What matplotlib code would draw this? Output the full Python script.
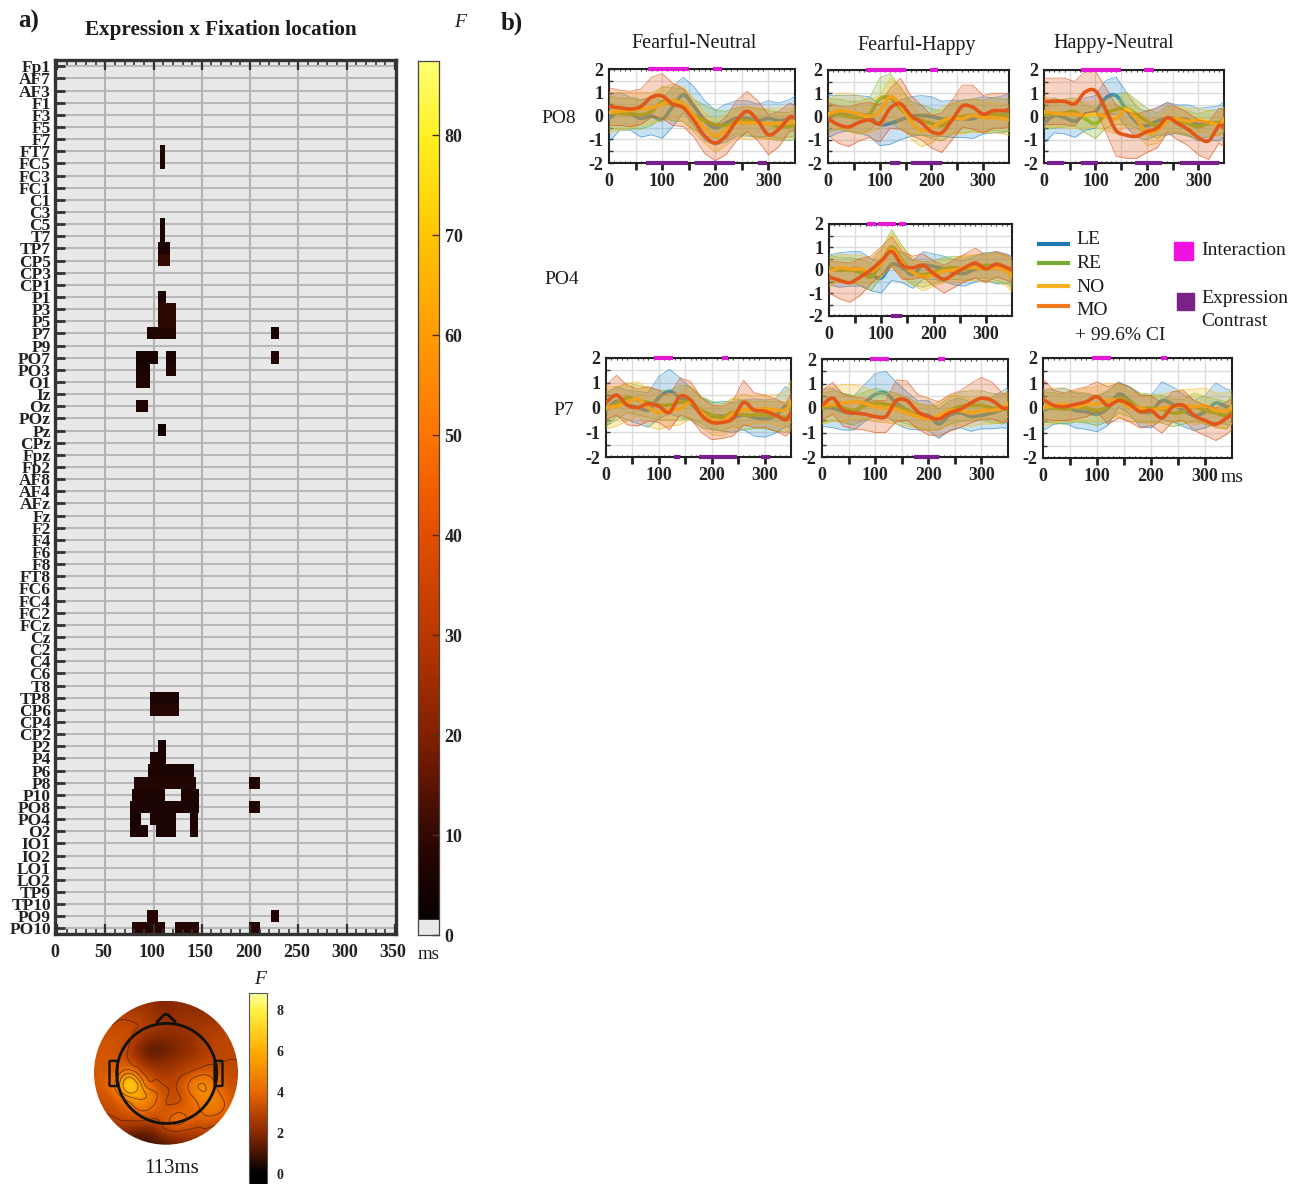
import matplotlib
matplotlib.use('agg')
import matplotlib.pyplot as plt
import numpy as np
from matplotlib.colors import LinearSegmentedColormap
from matplotlib.patches import Circle, FancyBboxPatch, PathPatch, Rectangle
from matplotlib.path import Path
from matplotlib.transforms import ScaledTranslation
from matplotlib.tri import Triangulation, UniformTriRefiner

W, H = 1304, 1184
SERIF = 'Liberation Serif'

CHANNELS = ['Fp1', 'AF7', 'AF3', 'F1', 'F3', 'F5', 'F7', 'FT7', 'FC5', 'FC3', 'FC1', 'C1', 'C3', 'C5', 'T7', 'TP7',
            'CP5', 'CP3', 'CP1', 'P1', 'P3', 'P5', 'P7', 'P9', 'PO7', 'PO3', 'O1', 'Iz', 'Oz', 'POz', 'Pz', 'CPz',
            'Fpz', 'Fp2', 'AF8', 'AF4', 'AFz', 'Fz', 'F2', 'F4', 'F6', 'F8', 'FT8', 'FC6', 'FC4', 'FC2', 'FCz', 'Cz',
            'C2', 'C4', 'C6', 'T8', 'TP8', 'CP6', 'CP4', 'CP2', 'P2', 'P4', 'P6', 'P8', 'P10', 'PO8', 'PO4', 'O2',
            'IO1', 'IO2', 'LO1', 'LO2', 'TP9', 'TP10', 'PO9', 'PO10']

# significant stretches per channel: start ms, end ms, F
SIG_CELLS = {
    'FT7': [(106, 112.5, 7)], 'FC5': [(106, 112.5, 7)], 'C5': [(106, 112.5, 6)], 'T7': [(106, 112.5, 6)],
    'TP7': [(104, 117, 6)], 'CP5': [(104, 117, 10)], 'P1': [(104, 113, 6)], 'P3': [(104, 123, 9)],
    'P5': [(104, 123, 9)], 'P7': [(93, 123, 7), (221, 229, 6)], 'PO7': [(82.5, 104, 5), (113, 123, 5), (221, 229, 7)],
    'PO3': [(82.5, 95.6, 6), (113, 123, 7)], 'O1': [(82.5, 95.6, 7)], 'Oz': [(82.5, 94.5, 7)], 'Pz': [(104, 113, 4)],
    'TP8': [(96, 125.6, 6)], 'CP6': [(96, 125.6, 8)], 'P2': [(104, 113, 6)], 'P4': [(96, 113, 6)],
    'P6': [(94.5, 141, 6)], 'P8': [(80, 143.5, 7), (198, 209.5, 7)],
    'P10': [(77, 112.5, 6), (128, 147, 6)], 'PO8': [(75, 147, 6), (198, 209.5, 7)],
    'PO4': [(75, 86.6, 5), (96, 123, 6), (137, 145.6, 6)], 'O2': [(75, 94.5, 6), (102, 123, 6), (137, 145.6, 6)],
    'PO9': [(93, 104, 8), (221, 229, 7)], 'PO10': [(77, 112, 8), (121.5, 147, 8), (198, 209.5, 8)],
}

MS = [0, 20, 40, 60, 80, 100, 120, 140, 160, 180, 200, 220, 240, 260, 280, 300, 320, 340, 350]

PO8_FN_LE = [-.1, .2, .1, -.1, 0, -.15, .4, .9, .4, -.2, -.5, -.3, -.1, -.1, -.2, -.1, -.2, -.1, 0]
PO8_FN_RE = [.15, .1, .1, .05, .2, .6, .5, .45, .05, -.2, -.35, -.4, -.2, -.2, -.3, -.35, -.45, -.45, -.35]
PO8_FN_NO = [.15, .2, .25, .3, .35, .5, .65, .5, 0, -.5, -.85, -.6, -.3, -.3, -.3, -.35, -.3, -.3, -.25]
PO8_FN_MO = [.4, .35, .3, .4, .8, .85, .5, .35, -.2, -.85, -1.15, -.85, -.2, .2, -.2, -.8, -.55, -.05, -.1]
PO8_FN_LE_CI = [1.0, .8, .7, .8, .8, .8, .85, .75, .85, .85, .75, .8, .75, .75, .7, .75, .75, .8, .85]
PO8_FN_RE_CI = [.7, .65, .65, .6, .6, .65, .7, .7, .65, .65, .6, .6, .55, .6, .6, .6, .6, .6, .65]
PO8_FN_NO_CI = [.85, .8, .75, .7, .65, .7, .7, .75, .7, .65, .7, .65, .6, .7, .65, .65, .65, .6, .65]
PO8_FN_MO_CI = [.8, .75, .75, .75, .85, .95, .9, .8, .7, .75, .75, .8, .85, .85, .85, .85, .75, .6, .55]

PO8_FH_LE = [0, .1, .15, .1, 0, -.35, -.3, -.15, 0, .05, 0, -.1, -.1, -.1, -.1, .05, .05, .1, .2]
PO8_FH_RE = [.05, .1, 0, -.05, .1, .75, .8, .35, -.05, -.15, -.3, -.4, -.1, 0, .05, 0, .1, .05, .05]
PO8_FH_NO = [.1, .25, .2, .1, 0, .2, .85, .5, -.2, -.6, -.5, -.2, -.05, -.1, .05, -.05, -.05, -.1, -.15]
PO8_FH_MO = [-.1, -.35, -.45, -.25, -.15, -.3, .35, .55, .05, -.25, -.65, -.7, -.15, .45, .4, .1, .25, .25, .3]
PO8_FH_LE_CI = [.9, .8, .75, .8, .85, .9, .9, .85, .85, .85, .85, .75, .8, .8, .85, .8, .75, .8, .8]
PO8_FH_RE_CI = [.7, .65, .65, .7, .7, .9, 1.05, .9, .7, .65, .65, .65, .65, .7, .7, .7, .7, .7, .7]
PO8_FH_NO_CI = [.6, .75, .8, .8, .7, .7, .8, .8, .75, .7, .65, .6, .65, .65, .7, .65, .65, .65, .65]
PO8_FH_MO_CI = [.7, .8, .85, .8, .75, .8, .85, 1.1, .85, .75, .7, .85, .85, .9, .95, .8, .75, .75, .7]

PO8_HN_LE = [-.3, .05, -.05, -.2, .1, .2, .8, .9, .3, -.25, -.4, -.2, -.1, -.1, -.15, -.35, -.3, -.3, -.1]
PO8_HN_RE = [.1, .1, .15, .2, -.1, -.3, .1, .3, .35, .1, -.2, -.4, -.1, -.2, -.3, -.45, -.3, -.25, -.15]
PO8_HN_NO = [.2, .15, .1, .1, .05, .1, 0, -.1, .3, -.1, -.7, -.6, -.2, -.1, -.2, -.15, -.25, -.35, -.1]
PO8_HN_MO = [.65, .65, .65, .55, 1.05, 1.1, .3, -.6, -.8, -.85, -.65, -.5, -.05, -.3, -.55, -.9, -1.05, -.4, -.5]
PO8_HN_LE_CI = [.85, .75, .7, .7, .7, .7, .75, .8, .75, .65, .6, .6, .7, .6, .65, .7, .7, .75, .75]
PO8_HN_RE_CI = [.6, .6, .6, .6, .6, .65, .6, .65, .7, .6, .55, .55, .55, .55, .55, .55, .55, .55, .55]
PO8_HN_NO_CI = [.65, .6, .6, .6, .55, .55, .6, .65, .7, .65, .55, .55, .5, .55, .55, .5, .5, .5, .5]
PO8_HN_MO_CI = [1.0, 1.0, 1.0, .95, .9, .85, .95, 1.1, 1.0, .95, .9, .85, .65, .7, .7, .75, .8, .75, .8]

PO4_FH_LE = [0, 0, .05, .05, -.2, -.35, .25, .1, -.2, .2, .15, .05, -.1, -.15, .05, .15, .1, .05, 0]
PO4_FH_RE = [.1, 0, 0, -.1, -.3, .3, 1.0, .4, -.1, -.2, -.1, .05, .1, .05, .15, .2, .15, 0, -.2]
PO4_FH_NO = [-.1, .1, .05, .05, -.05, .3, .9, .3, -.1, -.3, -.2, -.05, 0, .1, .1, .05, .1, -.05, -.3]
PO4_FH_MO = [-.3, -.45, -.55, -.3, 0, .4, .8, .2, .1, .2, -.15, -.4, -.15, .1, .3, .05, .25, .1, 0]
PO4_FH_LE_CI = [.65, .75, .75, .75, .7, .65, .7, .65, .6, .6, .55, .55, .55, .55, .55, .6, .7, .65, .6]
PO4_FH_RE_CI = [.55, .55, .55, .55, .6, .6, .75, .65, .55, .55, .5, .5, .5, .5, .5, .55, .6, .6, .6]
PO4_FH_NO_CI = [.6, .6, .6, .6, .55, .6, .7, .65, .55, .6, .5, .5, .5, .55, .55, .55, .6, .65, .65]
PO4_FH_MO_CI = [.7, .8, .85, .8, .6, .6, .65, .6, .5, .5, .55, .6, .6, .6, .65, .6, .55, .55, .55]

P7_FN_LE = [-.1, .25, .1, 0, -.1, .4, .65, .4, .15, -.2, -.35, -.35, -.4, -.3, -.4, -.45, -.35, .05, -.1]
P7_FN_RE = [-.05, .15, .4, .3, .2, .1, .1, .2, .2, -.1, -.3, -.4, -.2, -.3, -.3, -.3, -.35, -.4, -.3]
P7_FN_NO = [0, .05, .2, .35, 0, -.2, -.1, -.05, .2, -.2, -.5, -.55, -.25, -.1, -.1, -.05, -.1, -.1, .25]
P7_FN_MO = [.2, .5, .1, 0, .15, .05, -.2, .45, .3, -.3, -.6, -.6, -.45, .2, -.1, -.15, -.3, -.5, -.2]
P7_FN_LE_CI = [.65, .6, .6, .65, .7, .85, .9, .8, .65, .6, .55, .6, .6, .6, .75, .75, .7, .8, .75]
P7_FN_RE_CI = [.7, .65, .6, .6, .6, .6, .6, .7, .65, .55, .55, .55, .55, .6, .55, .55, .6, .6, .6]
P7_FN_NO_CI = [.85, .8, .75, .7, .75, .7, .65, .65, .65, .6, .6, .6, .65, .65, .55, .55, .6, .75, .85]
P7_FN_MO_CI = [.7, .8, .8, .75, .7, .65, .7, .75, .75, .7, .7, .65, .7, .9, .7, .65, .65, .65, .75]

P7_FH_LE = [0, 0, -.15, -.2, .2, .55, .6, .2, -.1, -.3, -.3, -.65, -.3, -.2, -.35, -.3, -.2, -.05, 0]
P7_FH_RE = [0, .1, 0, -.1, .1, .2, .15, .05, -.1, -.3, -.4, -.4, -.1, .05, .1, .1, 0, -.05, .05]
P7_FH_NO = [.1, .15, .2, .25, .2, .05, 0, -.05, -.2, -.35, -.45, -.3, -.1, -.1, -.2, -.1, -.1, 0, .2]
P7_FH_MO = [.1, .4, -.1, -.2, -.25, -.35, -.35, .3, .3, -.15, -.35, -.45, -.2, -.05, .2, .4, .3, 0, 0]
P7_FH_LE_CI = [.75, .8, .75, .7, .75, .85, .9, .85, .75, .6, .6, .6, .6, .6, .6, .55, .65, .75, .85]
P7_FH_RE_CI = [.6, .6, .6, .6, .55, .6, .55, .55, .55, .5, .5, .5, .55, .6, .6, .6, .6, .6, .6]
P7_FH_NO_CI = [.75, .7, .75, .7, .65, .6, .6, .6, .55, .5, .5, .55, .6, .6, .55, .55, .55, .55, .55]
P7_FH_MO_CI = [.6, .65, .65, .65, .65, .65, .65, .85, .8, .7, .75, .7, .75, .75, .8, .85, .75, .6, .55]

P7_HN_LE = [-.1, .05, .1, -.1, -.15, -.25, 0, .55, .3, -.1, -.15, .3, .15, -.1, -.3, -.15, .2, .05, 0]
P7_HN_RE = [.05, 0, -.05, .05, 0, -.1, .05, .4, .25, 0, 0, -.05, -.2, -.15, .05, -.1, -.2, -.3, -.05]
P7_HN_NO = [0, .1, .15, .05, .15, .15, .3, .3, .05, 0, -.1, 0, .05, .1, .05, .1, -.1, -.1, .05]
P7_HN_MO = [.35, .1, .05, .15, .25, .45, .1, .3, .15, -.15, -.1, -.4, .05, .1, -.3, -.5, -.65, -.4, -.25]
P7_HN_LE_CI = [.8, .7, .7, .7, .7, .7, .7, .5, .55, .65, .65, .75, .7, .65, .6, .65, .8, .7, .7]
P7_HN_RE_CI = [.6, .6, .6, .6, .6, .6, .6, .6, .6, .6, .55, .55, .55, .5, .55, .55, .55, .55, .55]
P7_HN_NO_CI = [.75, .7, .65, .6, .65, .7, .7, .65, .6, .55, .55, .55, .6, .65, .7, .7, .7, .7, .65]
P7_HN_MO_CI = [.8, .6, .55, .6, .6, .6, .75, .7, .7, .65, .6, .6, .6, .6, .6, .6, .65, .65, .6]

# interaction and expression contrast stretches, ms
PO8_FN_INT = [(73.5, 151), (196, 213)]
PO8_FN_EXP = [(70, 149), (161, 237), (281, 298)]
PO8_FH_INT = [(73.5, 150), (197, 213)]
PO8_FH_EXP = [(119, 140), (160, 220)]
PO8_HN_INT = [(72, 150), (195, 214)]
PO8_HN_EXP = [(6.5, 39), (71, 105), (177, 229), (265, 340)]
PO4_FH_INT = [(72, 90), (94, 128), (134, 148)]
PO4_FH_EXP = [(118, 139)]
P7_FN_INT = [(91, 126), (220, 231)]
P7_FN_EXP = [(128, 140), (175, 248), (294, 311)]
P7_FH_INT = [(91, 126), (219, 232)]
P7_FH_EXP = [(174, 221)]
P7_HN_INT = [(91, 126.5), (218, 230)]
P7_HN_EXP = []

SERIES_COLORS = ['#2f8fd0', '#7fb52a', '#f5bd1e', '#e2561a']
LEGEND_COLORS = ['#1f77b4', '#77ac30', '#f5b120', '#f47a1f']
LEGEND_NAMES = ['LE', 'RE', 'NO', 'MO']

TOPO_F = [
    [2, 2, 2, 2, 2.2, 2.1, 1.8, 2, 2, 2, 2, 2, 2],
    [2.6, 2.6, 2.8, 2.8, 2.6, 2.3, 2, 2.2, 2.3, 2.1, 2.2, 2.4, 2.6],
    [3, 3, 3.2, 3.2, 3, 2.6, 2.3, 2.4, 2.5, 2.5, 2.6, 2.7, 2.8],
    [3.3, 3.4, 3.4, 3.2, 2.3, 2, 2, 2.1, 2.2, 2.7, 2.9, 3, 3],
    [3.5, 3.5, 3.4, 2.9, 1.5, 1.2, 1.4, 1.9, 2.1, 2.6, 3, 3, 3],
    [3.5, 3.6, 3.5, 3, 2.2, 1.8, 2, 2.3, 2.5, 2.8, 3, 3.1, 3.1],
    [3.5, 3.6, 3.8, 5.2, 3.2, 2.8, 2.5, 2.8, 3.2, 3.8, 3.6, 3.2, 3.1],
    [3.5, 3.8, 5, 8.8, 5.2, 3.4, 3, 3.2, 4.5, 5.6, 4.4, 3.4, 3.2],
    [3.3, 3.4, 3.8, 5.6, 5.8, 4.6, 3.2, 3, 3.9, 5, 4.8, 3.9, 3.4],
    [3, 3.2, 3.3, 3.8, 4.4, 3.9, 3.3, 3.7, 3.8, 4.4, 4.8, 4, 3.4],
    [2.8, 2.7, 3, 3.1, 3.1, 2.9, 3.8, 4.6, 3.8, 3.6, 3.6, 3.2, 2.9],
    [2.3, 2.1, 2, 1.5, 1.2, 1.6, 2.6, 2.8, 2.7, 2.8, 2.7, 2.5, 2.3],
    [2, 1.8, 1.5, 1, .8, .9, 1.1, 1.5, 1.8, 2, 2, 2, 2],
]

fig = plt.figure(figsize=(W / 100, H / 100), dpi=100, facecolor='white')
heat = LinearSegmentedColormap.from_list('heat', [
    (0, '#000000'), (.10, '#2b0703'), (.22, '#7e1f00'), (.34, '#b93800'), (.46, '#e34f00'),
    (.57, '#ff7400'), (.68, '#ff9a00'), (.80, '#ffc500'), (.91, '#fff020'), (1, '#ffff70')])
topo_heat = LinearSegmentedColormap.from_list('topo_heat', [
    (0, '#000000'), (.226, '#8a2a00'), (.34, '#bd4500'), (.45, '#e86800'),
    (.68, '#ffae00'), (.9, '#fff040'), (1, '#ffffa0')])


def px_axes(left, top, right, bottom):
    return fig.add_axes([left / W, 1 - bottom / H, (right - left) / W, (bottom - top) / H])


def px_text(x, y, s, size=13, **kw):
    fig.text(x / W, 1 - (y + 1.5) / H, s, family=SERIF, size=size, va='center', color='#1a1a1a', **kw)


def draw_main():
    ax = px_axes(55, 60, 396, 934)
    ax.set_facecolor('#e8e8e8')
    grid = np.full((len(CHANNELS), 360), np.nan)
    for ch, cells in SIG_CELLS.items():
        for start, end, f in cells:
            grid[CHANNELS.index(ch), int(round(start)):int(round(end))] = f
    for i in range(len(CHANNELS)):
        ax.axhline(i, color='#b9b9b9', lw=1.5, zorder=1)
    for t in range(50, 350, 50):
        ax.axvline(t, color='#b4b4b4', lw=1.5, zorder=1)
    ax.imshow(grid, cmap=heat, vmin=0, vmax=87.4, aspect='auto', interpolation='nearest',
              extent=(0, 360, len(CHANNELS) - .5, -.5), zorder=2)
    ax.set_xlim(-2, 351)
    ax.set_ylim(71.46, -.52)
    ax.set_axisbelow(False)
    ax.set_yticks(range(len(CHANNELS)))
    ax.set_yticklabels(CHANNELS, family=SERIF, size=12.5, weight='bold', color='#222222')
    ax.tick_params(axis='y', length=0, pad=3, right=False)
    ax.hlines(range(len(CHANNELS)), -2, 8, colors='#333333', lw=2, zorder=4)
    ax.set_xticks(range(0, 351, 50))
    ax.set_xticklabels([str(t) for t in range(0, 351, 50)], family=SERIF, size=13, weight='bold', color='#222222')
    ax.set_xticks(range(0, 351, 10), minor=True)
    ax.tick_params(axis='x', which='major', direction='in', length=7, width=1.6, color='#333333', top=True, pad=7.5)
    ax.tick_params(axis='x', which='minor', direction='in', length=3.5, width=1.2, color='#333333', top=True)
    shift = ScaledTranslation(-2 / 100, 0, fig.dpi_scale_trans)
    for lbl in ax.get_xticklabels():
        lbl.set_transform(lbl.get_transform() + shift)
    for s in ax.spines.values():
        s.set_linewidth(2.4)
        s.set_color('#333333')

    cax = px_axes(418, 61, 439, 935)
    ramp = np.linspace(87.4, 1.5, 512).reshape(-1, 1)
    cax.imshow(ramp, cmap=heat, vmin=0, vmax=87.4, aspect='auto', extent=(0, 1, 1.5, 87.4))
    cax.add_patch(Rectangle((0, 0), 1, 1.5, color='#e8e8e8'))
    cax.set_xlim(0, 1)
    cax.set_ylim(0, 87.4)
    cax.set_xticks([])
    cax.yaxis.tick_right()
    cax.set_yticks(range(0, 81, 10))
    cax.set_yticklabels([str(t) for t in range(0, 81, 10)], family=SERIF, size=13, weight='bold', color='#222222')
    cax.tick_params(axis='y', direction='in', length=5, width=1, color='#5a2a10', pad=4)
    for s in cax.spines.values():
        s.set_linewidth(.9)
        s.set_color('#444444')


def draw_topo():
    ax = px_axes(94, 1000.7, 238, 1144.7)
    half = 1 / (len(TOPO_F) - 1)
    img = ax.imshow(TOPO_F, cmap=topo_heat, vmin=0, vmax=8.85, interpolation='bicubic',
                    extent=(-1 - half, 1 + half, 1 + half, -1 - half))
    clip = Circle((0, 0), 1, transform=ax.transData)
    img.set_clip_path(clip)
    lin = np.linspace(-1, 1, len(TOPO_F))
    xx, yy = np.meshgrid(lin, lin)
    tri = Triangulation(xx.ravel(), yy.ravel())
    fine_tri, fine_f = UniformTriRefiner(tri).refine_field(np.array(TOPO_F).ravel(), subdiv=3)
    cs = ax.tricontour(fine_tri, fine_f, levels=[3.1, 4.2, 5.5, 7], colors='#3a2010', linewidths=.6, alpha=.7)
    cs.set_clip_path(clip)
    ax.add_patch(Circle((.01, .01), .695, fill=False, ec='#111111', lw=2))
    ax.plot([-.12, -.02, .02, .125], [-.71, -.81, -.81, -.71], color='#111111', lw=2)
    for x0 in [-.77, .69]:
        ax.add_patch(FancyBboxPatch((x0, -.15), .08, .32, boxstyle='round,pad=.015', fill=False, ec='#111111', lw=1.7))
    ax.set_xlim(-1, 1)
    ax.set_ylim(1, -1)
    ax.axis('off')

    cax = px_axes(249, 993, 267, 1184)
    ramp = np.linspace(8.85, -.5, 256).reshape(-1, 1)
    cax.imshow(ramp, cmap=topo_heat, vmin=0, vmax=8.85, aspect='auto', extent=(0, 1, -.5, 8.85))
    cax.set_xticks([])
    cax.yaxis.tick_right()
    cax.set_yticks([0, 2, 4, 6, 8])
    cax.set_yticklabels(['0', '2', '4', '6', '8'], family=SERIF, size=10, weight='bold', color='#222222')
    cax.tick_params(axis='y', length=0, pad=7)
    for s in cax.spines.values():
        s.set_linewidth(.8)
        s.set_color('#555555')


def smooth_line(ax, xs, ys, color):
    # curved path through the read values, the original traces are smooth
    pts = np.column_stack([xs, ys])
    verts = [pts[0]]
    codes = [Path.MOVETO]
    for i in range(len(pts) - 1):
        before = pts[max(i - 1, 0)]
        after = pts[min(i + 2, len(pts) - 1)]
        verts += [pts[i] + (pts[i + 1] - before) / 6, pts[i + 1] - (after - pts[i]) / 6, pts[i + 1]]
        codes += [Path.CURVE4] * 3
    ax.add_patch(PathPatch(Path(verts, codes), fill=False, ec=color, lw=2.6, zorder=3, capstyle='round'))


def draw_panel(rect, means, cis, interaction, contrast):
    ax = px_axes(*rect)
    for mean, ci, color in zip(means, cis, SERIES_COLORS):
        mean = np.array(mean)
        ci = np.array(ci)
        ax.fill_between(MS, mean - ci, mean + ci, color=color, alpha=.26, lw=0, zorder=3)
        ax.plot(MS, mean + ci, color=color, lw=.6, alpha=.7, zorder=3)
        ax.plot(MS, mean - ci, color=color, lw=.6, alpha=.7, zorder=3)
        smooth_line(ax, MS, mean, color)
    ax.set_xlim(0, 350)
    ax.set_ylim(-2, 2)
    ax.set_xticks(range(50, 350, 50))
    ax.set_xticklabels(['' for t in range(50, 350, 50)])
    ax.set_xticks(range(0, 351, 10), minor=True)
    ax.set_yticks(np.arange(-2, 2.5, .5))
    ax.set_yticklabels(['-2', '', '-1', '', '0', '', '1', '', '2'], family=SERIF, size=13, weight='bold', color='#222222')
    ax.grid(True, which='major', color='#dcdcdc', lw=1, zorder=0)
    ax.set_axisbelow(True)
    ax.tick_params(axis='x', which='major', direction='out', length=5, width=2, color='#222222', pad=1)
    ax.tick_params(axis='x', which='minor', direction='in', length=1.5, width=.8, color='#333333', top=True)
    ax.tick_params(axis='y', direction='in', length=3, width=1, color='#333333', pad=4)
    for t in range(0, 301, 100):
        ax.annotate(str(t), (t, -2), xytext=(0, -13), textcoords='offset points', ha='center', va='center',
                    family=SERIF, size=13, weight='bold', color='#222222', annotation_clip=False)
    for start, end in interaction:
        ax.hlines(2, start, end, color='#e41ad6', lw=3, zorder=5, clip_on=False)
    for start, end in contrast:
        ax.hlines(-2, start, end, color='#7a1f8e', lw=3, zorder=5, clip_on=False)
    for s in ax.spines.values():
        s.set_linewidth(1.5)
        s.set_color('#222222')


draw_main()
draw_topo()

draw_panel((609, 69, 795, 163), [PO8_FN_LE, PO8_FN_RE, PO8_FN_NO, PO8_FN_MO],
           [PO8_FN_LE_CI, PO8_FN_RE_CI, PO8_FN_NO_CI, PO8_FN_MO_CI], PO8_FN_INT, PO8_FN_EXP)
draw_panel((828, 70, 1009, 163), [PO8_FH_LE, PO8_FH_RE, PO8_FH_NO, PO8_FH_MO],
           [PO8_FH_LE_CI, PO8_FH_RE_CI, PO8_FH_NO_CI, PO8_FH_MO_CI], PO8_FH_INT, PO8_FH_EXP)
draw_panel((1044, 70, 1224, 163), [PO8_HN_LE, PO8_HN_RE, PO8_HN_NO, PO8_HN_MO],
           [PO8_HN_LE_CI, PO8_HN_RE_CI, PO8_HN_NO_CI, PO8_HN_MO_CI], PO8_HN_INT, PO8_HN_EXP)
draw_panel((829, 224, 1012, 316), [PO4_FH_LE, PO4_FH_RE, PO4_FH_NO, PO4_FH_MO],
           [PO4_FH_LE_CI, PO4_FH_RE_CI, PO4_FH_NO_CI, PO4_FH_MO_CI], PO4_FH_INT, PO4_FH_EXP)
draw_panel((606, 358, 791, 457), [P7_FN_LE, P7_FN_RE, P7_FN_NO, P7_FN_MO],
           [P7_FN_LE_CI, P7_FN_RE_CI, P7_FN_NO_CI, P7_FN_MO_CI], P7_FN_INT, P7_FN_EXP)
draw_panel((822, 359, 1008, 457), [P7_FH_LE, P7_FH_RE, P7_FH_NO, P7_FH_MO],
           [P7_FH_LE_CI, P7_FH_RE_CI, P7_FH_NO_CI, P7_FH_MO_CI], P7_FH_INT, P7_FH_EXP)
draw_panel((1043, 358, 1232, 458), [P7_HN_LE, P7_HN_RE, P7_HN_NO, P7_HN_MO],
           [P7_HN_LE_CI, P7_HN_RE_CI, P7_HN_NO_CI, P7_HN_MO_CI], P7_HN_INT, P7_HN_EXP)

# legend swatches and loose labels sit on a full-figure overlay
overlay = fig.add_axes([0, 0, 1, 1], facecolor='none')
overlay.set_xlim(0, W)
overlay.set_ylim(H, 0)
overlay.axis('off')
for y, color, name, ty in zip([244, 263, 286, 306], LEGEND_COLORS, LEGEND_NAMES, [238, 262, 286, 309]):
    overlay.plot([1039, 1068], [y, y], color=color, lw=3)
    px_text(1076, ty, name, size=14)
px_text(1075, 334, '+ 99.6% CI', size=14)
overlay.add_patch(Rectangle((1174, 242), 19, 18, color='#f010e0'))
overlay.add_patch(Rectangle((1177, 293), 17, 17, color='#7a2288'))
px_text(1201, 249, 'Interaction', size=14)
px_text(1201, 297, 'Expression', size=14)
px_text(1201, 320, 'Contrast', size=14)

px_text(18, 20, 'a)', size=18, weight='bold')
px_text(501, 22, 'b)', size=18, weight='bold')
px_text(221, 28, 'Expression x Fixation location', size=15.2, weight='bold', ha='center')
px_text(460, 21, 'F', size=14, style='italic', ha='center')
px_text(429, 953, 'ms', size=13.5, ha='center')
px_text(260, 978, 'F', size=14, style='italic', ha='center')
px_text(172, 1167, '113ms', size=15, ha='center')
px_text(694, 42, 'Fearful-Neutral', size=14.5, ha='center')
px_text(917, 44, 'Fearful-Happy', size=14.5, ha='center')
px_text(1114, 42, 'Happy-Neutral', size=14.5, ha='center')
px_text(559, 117, 'PO8', size=14, ha='center')
px_text(562, 278, 'PO4', size=14, ha='center')
px_text(564, 409, 'P7', size=14, ha='center')
px_text(1232, 476, 'ms', size=14, ha='center')

fig.savefig('out.png', dpi=100)
